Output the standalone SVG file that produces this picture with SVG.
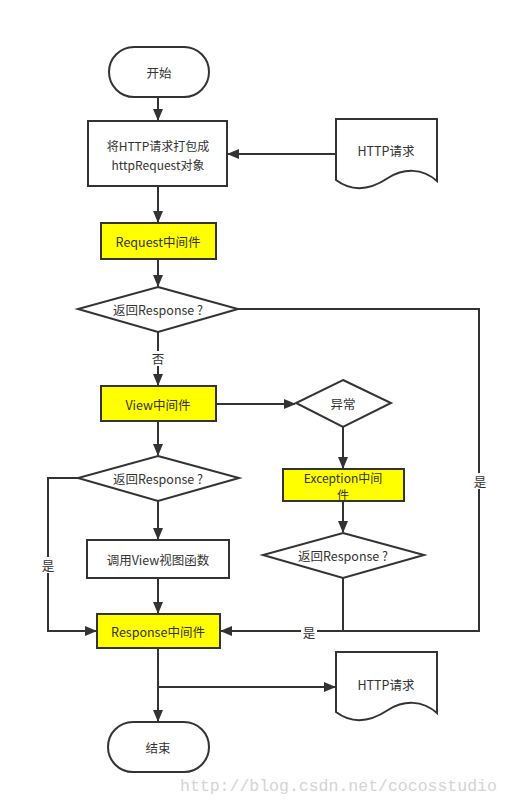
<svg xmlns="http://www.w3.org/2000/svg" width="511" height="804" viewBox="0 0 511 804">
<style>
.s{fill:#fff;stroke:#333;stroke-width:2}
.y{fill:#ffff00;stroke:#333;stroke-width:2}
.t{font-family:"Noto Sans CJK SC","Liberation Sans",sans-serif;font-size:12.5px;fill:#333;text-anchor:middle;dominant-baseline:central}
.m{font-size:12px}
.c{fill:none;stroke:#333;stroke-width:2}
.lb{fill:#fff}
</style>
<defs>
<marker id="a" markerUnits="userSpaceOnUse" markerWidth="12" markerHeight="10" refX="11" refY="5" orient="auto">
<path d="M0,0 L12,5 L0,10 z" fill="#333"/>
</marker>
</defs>
<rect width="511" height="804" fill="#fff"/>
<g id="connectors">
<path class="c" d="M158,97 V120" marker-end="url(#a)"/>
<path class="c" d="M336,154 H228" marker-end="url(#a)"/>
<path class="c" d="M158,186 V222" marker-end="url(#a)"/>
<path class="c" d="M158,259 V286" marker-end="url(#a)"/>
<path class="c" d="M158,332 V385" marker-end="url(#a)"/>
<rect class="lb" x="150" y="351" width="16" height="15"/>
<text class="t" x="158" y="358">否</text>
<path class="c" d="M238,309 H479 V631 H221" marker-end="url(#a)"/>
<rect class="lb" x="472" y="473" width="16" height="16"/>
<text class="t" x="480" y="481">是</text>
<path class="c" d="M216,404 H295" marker-end="url(#a)"/>
<path class="c" d="M343,427 V468" marker-end="url(#a)"/>
<path class="c" d="M158,421 V455" marker-end="url(#a)"/>
<path class="c" d="M343,501 V532" marker-end="url(#a)"/>
<path class="c" d="M343,578 V631"/>
<rect class="lb" x="301" y="624" width="16" height="16"/>
<text class="t" x="309" y="632">是</text>
<path class="c" d="M158,501 V539" marker-end="url(#a)"/>
<path class="c" d="M78,478 H48 V631 H96" marker-end="url(#a)"/>
<rect class="lb" x="40" y="557" width="16" height="16"/>
<text class="t" x="48" y="565">是</text>
<path class="c" d="M158,578 V613" marker-end="url(#a)"/>
<path class="c" d="M158,648 V721" marker-end="url(#a)"/>
<path class="c" d="M158,687 H335" marker-end="url(#a)"/>
</g>
<g id="start">
<rect class="s" x="109" y="47" width="100" height="50" rx="25"/>
<text class="t" x="159" y="72">开始</text>
</g>
<g id="pack">
<rect class="s" x="88" y="121" width="139" height="65"/>
<text class="t m" x="158" y="145">将HTTP请求打包成</text>
<text class="t m" x="158" y="164">httpRequest对象</text>
</g>
<g id="http-in">
<path class="s" d="M336,119 H437 V181 C422,168 404,168 388,178 C370,190 352,192 336,180 Z"/>
<text class="t" x="386" y="150">HTTP请求</text>
</g>
<g id="request-mw">
<rect class="y" x="101" y="223" width="115" height="36"/>
<text class="t" x="158" y="241">Request中间件</text>
</g>
<g id="dec1">
<polygon class="s" points="158,287 238,309 158,332 78,309"/>
<text class="t" x="158" y="309">返回Response ?</text>
</g>
<g id="view-mw">
<rect class="y" x="101" y="386" width="115" height="35"/>
<text class="t" x="158" y="404">View中间件</text>
</g>
<g id="exc">
<polygon class="s" points="343,380 391,403 343,427 296,403"/>
<text class="t" x="343" y="403">异常</text>
</g>
<g id="exception-mw">
<rect class="y" x="283" y="469" width="121" height="32"/>
<text class="t m" x="343" y="477">Exception中间</text>
<text class="t m" x="343" y="494">件</text>
</g>
<g id="dec2">
<polygon class="s" points="158,456 239,478 158,501 78,478"/>
<text class="t" x="158" y="478">返回Response ?</text>
</g>
<g id="dec3">
<polygon class="s" points="343,533 424,555 343,578 263,555"/>
<text class="t" x="343" y="555">返回Response ?</text>
</g>
<g id="call-view">
<rect class="s" x="87" y="540" width="142" height="38"/>
<text class="t" x="158" y="559">调用View视图函数</text>
</g>
<g id="response-mw">
<rect class="y" x="97" y="614" width="123" height="34"/>
<text class="t" x="158" y="631">Response中间件</text>
</g>
<g id="http-out">
<path class="s" d="M336,652 H437 V713 C422,700 404,700 388,710 C370,722 352,724 336,712 Z"/>
<text class="t" x="386" y="684">HTTP请求</text>
</g>
<g id="end">
<rect class="s" x="108" y="722" width="101" height="50" rx="25"/>
<text class="t" x="158" y="747">结束</text>
</g>
<text x="180" y="791" font-family="Liberation Mono,monospace" font-size="16.5" fill="#d4d4d4">http://blog.csdn.net/cocosstudio</text>
</svg>
